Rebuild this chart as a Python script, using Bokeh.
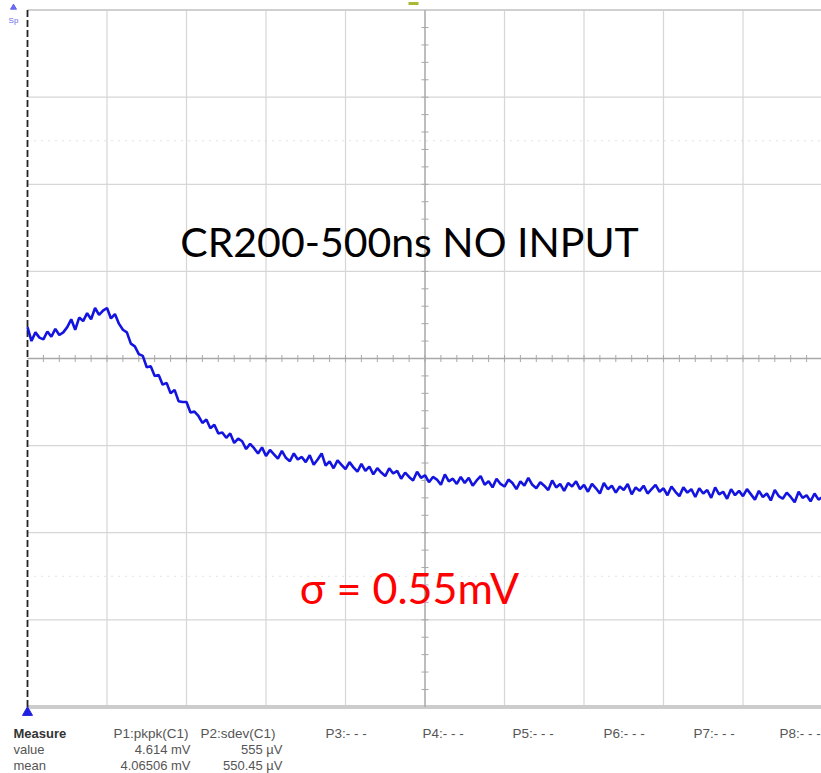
from bokeh.plotting import figure
from bokeh.models import Range1d, Label
from bokeh.embed import file_html
from bokeh.resources import INLINE
import numpy as np

# ---- data (in screen divisions: x 0..10, y -4..4) ----
x_divs = [0, 1, 2, 3, 4, 5, 6, 7, 8, 9, 10]
y_divs = [-4, -3, -2, -1, 0, 1, 2, 3, 4]
cursor_levels = [2.5, -2.5]

trace_y = [
    0.36, 0.20, 0.30, 0.24, 0.22, 0.31, 0.25, 0.34, 0.27, 0.30,
    0.36, 0.45, 0.33, 0.47, 0.43, 0.52, 0.45, 0.58, 0.50, 0.55,
    0.58, 0.46, 0.51, 0.40, 0.33, 0.30, 0.17, 0.14, 0.05, 0.03,
    -0.10, -0.09, -0.20, -0.19, -0.30, -0.28, -0.40, -0.36, -0.49, -0.50,
    -0.50, -0.62, -0.61, -0.66, -0.74, -0.70, -0.80, -0.76, -0.86, -0.85,
    -0.91, -0.86, -0.97, -0.92, -0.95, -1.04, -0.98, -1.03, -1.09, -1.02,
    -1.12, -1.05, -1.10, -1.15, -1.06, -1.14, -1.18, -1.09, -1.16, -1.13,
    -1.19, -1.11, -1.22, -1.16, -1.09, -1.23, -1.18, -1.26, -1.17, -1.22,
    -1.27, -1.19, -1.25, -1.30, -1.21, -1.29, -1.24, -1.33, -1.26, -1.31,
    -1.35, -1.26, -1.32, -1.29, -1.38, -1.31, -1.36, -1.40, -1.30, -1.37,
    -1.34, -1.42, -1.36, -1.39, -1.45, -1.33, -1.41, -1.38, -1.44, -1.36,
    -1.43, -1.37, -1.46, -1.40, -1.35, -1.45, -1.41, -1.48, -1.38, -1.44,
    -1.47, -1.39, -1.43, -1.50, -1.41, -1.46, -1.37, -1.45, -1.49, -1.42,
    -1.46, -1.51, -1.40, -1.48, -1.44, -1.52, -1.43, -1.47, -1.41, -1.50,
    -1.45, -1.53, -1.44, -1.49, -1.55, -1.43, -1.50, -1.46, -1.54, -1.47,
    -1.51, -1.44, -1.56, -1.48, -1.52, -1.46, -1.55, -1.50, -1.45, -1.53,
    -1.49, -1.57, -1.47, -1.53, -1.58, -1.48, -1.54, -1.50, -1.59, -1.49,
    -1.55, -1.51, -1.60, -1.48, -1.56, -1.53, -1.61, -1.50, -1.57, -1.52,
    -1.58, -1.50, -1.56, -1.62, -1.52, -1.59, -1.55, -1.63, -1.51, -1.58,
    -1.61, -1.54, -1.59, -1.65, -1.53, -1.60, -1.57, -1.64, -1.55, -1.62,
    -1.59,
]
sample_step = 0.05  # divisions per sample
trace_x = [i * sample_step for i in range(len(trace_y))]

title_text = "CR200-500ns NO INPUT"
sigma_text = "σ = 0.55mV"

meas_row_names = ["Measure", "value", "mean"]
meas_headers = ["P1:pkpk(C1)", "P2:sdev(C1)", "P3:- - -", "P4:- - -",
                "P5:- - -", "P6:- - -", "P7:- - -", "P8:- - -"]
meas_values = ["4.614 mV", "555 µV"]
meas_means = ["4.06506 mV", "550.45 µV"]

# ---- layout helpers (pixels -> division coordinates) ----
W, H = 821, 773
X0, XS = 27.0, 79.5     # left edge px, px per division
Y0, YS = 358.0, 87.1    # center px, px per division

def px(xp):
    return (xp - X0) / XS

def py(yp):
    return (Y0 - yp) / YS

p = figure(width=W, height=H,
           x_range=Range1d(px(0), px(W)), y_range=Range1d(py(H), py(0)),
           x_axis_location=None, y_axis_location=None,
           toolbar_location=None, output_backend="svg", min_border=0)
p.grid.visible = False
p.outline_line_color = None
p.background_fill_color = "white"
p.border_fill_color = "white"

# grid
gx = [d for d in x_divs[1:]]
p.segment(x0=gx, y0=[y_divs[0]] * len(gx), x1=gx, y1=[y_divs[-1]] * len(gx),
          line_color="#d6d6d6", line_width=1.2)
gy = [d for d in y_divs[1:-1]]
p.segment(x0=[x_divs[0]] * len(gy), y0=gy, x1=[x_divs[-1]] * len(gy), y1=gy,
          line_color="#d6d6d6", line_width=1.2)

# cursor dotted lines
p.segment(x0=[x_divs[0]] * 2, y0=cursor_levels, x1=[x_divs[-1]] * 2, y1=cursor_levels,
          line_color="#c8c8c8", line_width=1, line_dash="1 6")

# frame top / bottom
p.segment(x0=[x_divs[0]], y0=[y_divs[-1]], x1=[x_divs[-1]], y1=[y_divs[-1]],
          line_color="#d0d0d0", line_width=2)
p.segment(x0=[x_divs[0]], y0=[y_divs[0]], x1=[x_divs[-1]], y1=[y_divs[0]],
          line_color="#cccccc", line_width=4)

# center axes with minor ticks
p.segment(x0=[x_divs[0]], y0=[0], x1=[x_divs[-1]], y1=[0], line_color="#a8a8a8", line_width=1.3)
p.segment(x0=[5], y0=[y_divs[0]], x1=[5], y1=[y_divs[-1]], line_color="#a8a8a8", line_width=1.3)
minor_x = [i * 0.2 for i in range(1, 50)]
minor_y = [-4 + i * 0.2 for i in range(1, 40)]
p.scatter(x=minor_x, y=[0] * len(minor_x), marker="dash", size=7, angle=np.pi / 2,
          line_color="#a8a8a8", line_width=1)
p.scatter(x=[5] * len(minor_y), y=minor_y, marker="dash", size=7,
          line_color="#a8a8a8", line_width=1)

# left dashed border
p.segment(x0=[0], y0=[y_divs[0]], x1=[0], y1=[y_divs[-1]],
          line_color="#222222", line_width=1.8, line_dash="7 3")

# trace
p.line(trace_x, trace_y, line_color="#1414e0", line_width=2.6)

# markers
p.scatter(x=[0], y=[py(712)], marker="triangle", size=10,
          fill_color="#2020e0", line_color="#2020e0")
p.scatter(x=[px(13)], y=[py(7)], marker="triangle", size=6,
          fill_color="#6a6af0", line_color="#6a6af0")
p.rect(x=[px(413)], y=[py(3)], width=10, height=3, width_units="screen",
       height_units="screen", fill_color="#a8b830", line_color=None)
p.add_layout(Label(x=px(13), y=py(20), text="Sp", text_align="center",
                   text_font="Liberation Sans", text_font_size="8px",
                   text_color="#6a6af0", text_baseline="alphabetic"))

# main annotations
p.add_layout(Label(x=px(409), y=py(241), text=title_text, text_align="center",
                   text_baseline="alphabetic", text_font="Lato",
                   text_font_size="41px", text_color="#000000"))
p.add_layout(Label(x=px(409), y=py(587), text=sigma_text, text_align="center",
                   text_baseline="alphabetic", text_font="Lato",
                   text_font_size="43px", text_color="#ff0000"))

# measurement table
row_base = [733, 749, 765]
for name, yb in zip(meas_row_names, row_base):
    p.add_layout(Label(x=px(13), y=py(yb), text=name, text_align="left",
                       text_baseline="alphabetic", text_font="Liberation Sans",
                       text_font_size="13px",
                       text_font_style="bold" if name == "Measure" else "normal",
                       text_color="#333333" if name == "Measure" else "#555555"))
header_left = [113, 200, 325, 422, 512, 603, 693, 779]
for h, xl in zip(meas_headers, header_left):
    p.add_layout(Label(x=px(xl), y=py(row_base[0]), text=h, text_align="left",
                       text_baseline="alphabetic", text_font="Liberation Sans",
                       text_font_size="13.5px", text_color="#555555"))
value_right = [190, 282]
for v, m, xr in zip(meas_values, meas_means, value_right):
    p.add_layout(Label(x=px(xr), y=py(row_base[1]), text=v, text_align="right",
                       text_baseline="alphabetic", text_font="Liberation Sans",
                       text_font_size="13px", text_color="#555555"))
    p.add_layout(Label(x=px(xr), y=py(row_base[2]), text=m, text_align="right",
                       text_baseline="alphabetic", text_font="Liberation Sans",
                       text_font_size="13px", text_color="#555555"))

open("out.html", "w").write(file_html(p, INLINE))
